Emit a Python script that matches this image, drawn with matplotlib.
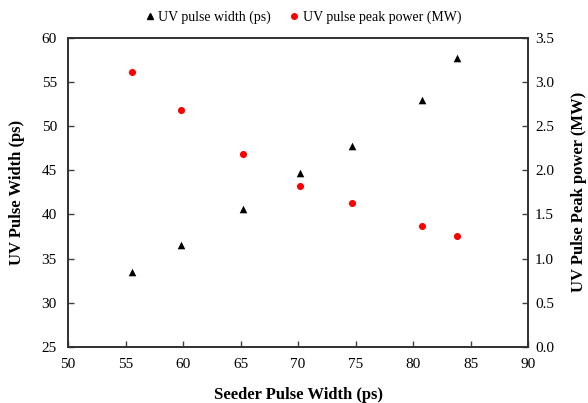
import matplotlib
matplotlib.use("Agg")
import matplotlib.pyplot as plt
from matplotlib.lines import Line2D

plt.rcParams['font.family'] = ['Liberation Serif', 'DejaVu Serif']

seeder_width = [55.6, 59.8, 65.2, 70.2, 74.7, 80.8, 83.8]
uv_width = [33.5, 36.5, 40.6, 44.7, 47.8, 53.0, 57.7]
uv_power = [3.12, 2.68, 2.18, 1.82, 1.63, 1.37, 1.25]

xticks = [50, 55, 60, 65, 70, 75, 80, 85, 90]
yticks_left = [25, 30, 35, 40, 45, 50, 55, 60]
yticks_right = [0.0, 0.5, 1.0, 1.5, 2.0, 2.5, 3.0, 3.5]

fig = plt.figure(figsize=(5.88, 4.03), dpi=100)
ax = fig.add_axes([68/588, 1-346.7/403, 460/588, (346.7-38)/403])
ax2 = ax.twinx()

ax.scatter(seeder_width, uv_width, marker='^', s=30, color='black', zorder=3, linewidths=0)
ax2.scatter(seeder_width, uv_power, marker='o', s=26, color='#ff0000', zorder=3, linewidths=0)

ax.set_xlim(50, 90)
ax.set_ylim(25, 60)
ax2.set_ylim(0, 3.5)
ax.set_xticks(xticks)
ax.set_yticks(yticks_left)
ax2.set_yticks(yticks_right)
ax2.set_yticklabels([f"{v:.1f}" for v in yticks_right])

for a in (ax, ax2):
    a.tick_params(direction='in', length=4, width=1, labelsize=11, colors='#404040', labelcolor='black')
    for s in a.spines.values():
        s.set_linewidth(1.2)
        s.set_color('#303030')
ax.tick_params(axis='x', pad=8)
ax.tick_params(axis='y', pad=8)
ax2.tick_params(axis='y', pad=5)

ax.set_xlabel('Seeder Pulse Width (ps)', fontsize=12, fontweight='bold', labelpad=12)
ax.set_ylabel('UV Pulse Width (ps)', fontsize=12, fontweight='bold', labelpad=12)
ax2.set_ylabel('UV Pulse Peak power (MW)', fontsize=12, fontweight='bold', labelpad=12)

handles = [
    Line2D([], [], marker='^', color='black', linestyle='none', markersize=4),
    Line2D([], [], marker='o', color='#ff0000', linestyle='none', markersize=4),
]
fig.legend(handles, ['UV pulse width (ps)', 'UV pulse peak power (MW)'],
           loc='center', bbox_to_anchor=(302/588, 1-17/403), ncol=2, frameon=False,
           fontsize=10, handletextpad=0.1, columnspacing=1.2, handlelength=1.0)

fig.savefig('out.png', dpi=100)
